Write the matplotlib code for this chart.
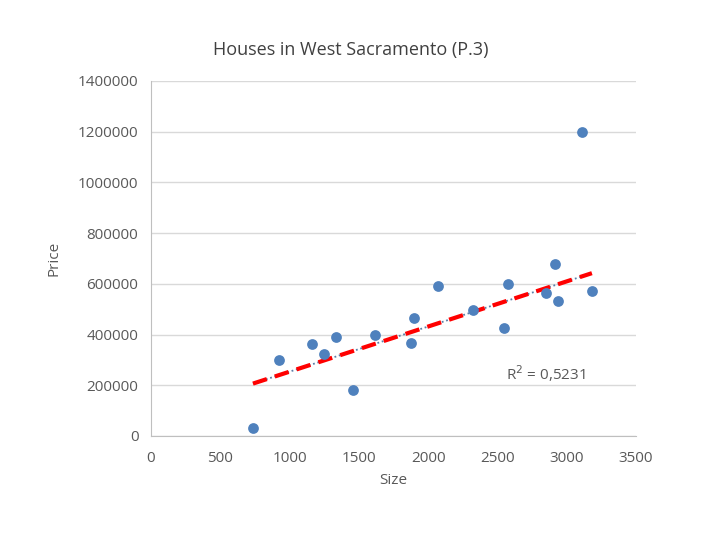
import matplotlib
matplotlib.use('Agg')
import numpy as np
import matplotlib.pyplot as plt

plt.rcParams['font.family'] = ['Open Sans', 'DejaVu Sans']

# house size vs price
size = [736, 923, 1162, 1248, 1335, 1457, 1616, 1876, 1898, 2071,
        2323, 2547, 2576, 2850, 2915, 2937, 3110, 3182]
price = [30000, 300000, 362000, 322000, 391000, 180000, 400000, 368000, 466000, 592000,
         496000, 426000, 598000, 563000, 678000, 533000, 1200000, 572000]
r2_label = 'R$^2$ = 0,5231'

gray_text = '#595959'

fig = plt.figure(figsize=(7.2, 5.4), dpi=100)
ax = fig.add_axes([0.2097, 0.1926, 0.6736, 0.6574])

# trend line: the original one ignores the 1.2M outlier
sx = np.array(size)
sy = np.array(price)
keep = sy < 1000000
coef = np.polyfit(sx[keep], sy[keep], 1)
xs = np.array([sx.min(), sx.max()])
ax.plot(xs, np.polyval(coef, xs), color='#5b7fa8', lw=1.3, ls=(0, (1, 1.5)), zorder=2)
ax.plot(xs, np.polyval(coef, xs), color='#ff0000', lw=3, ls=(0, (3.5, 2)), zorder=3)

ax.scatter(size, price, s=60, color='#4f81bd', zorder=4, linewidths=0)

ax.set_xlim(0, 3500)
ax.set_ylim(0, 1400000)
ax.set_xticks(np.arange(0, 3501, 500))
ax.set_yticks(np.arange(0, 1400001, 200000))
ax.set_yticklabels([str(v) for v in range(0, 1400001, 200000)])
ax.grid(axis='y', color='#d9d9d9', lw=1)
ax.set_axisbelow(True)
for s in ['top', 'right']:
    ax.spines[s].set_visible(False)
for s in ['left', 'bottom']:
    ax.spines[s].set_color('#bfbfbf')
ax.tick_params(length=0, labelsize=11, colors=gray_text)
ax.tick_params(axis='x', pad=11)
ax.tick_params(axis='y', pad=9)

ax.set_xlabel('Size', fontsize=11, color=gray_text, labelpad=5)
ax.set_ylabel('Price', fontsize=11, color=gray_text)
ax.yaxis.set_label_coords(-0.185, 0.5)

ax.text(2850, 245000, r2_label, fontsize=11, color=gray_text, ha='center', va='center')
fig.text(351 / 720, 1 - 50 / 540, 'Houses in West Sacramento (P.3)', fontsize=13,
         color='#404040', ha='center', va='center')

plt.savefig('out.png', dpi=100)
